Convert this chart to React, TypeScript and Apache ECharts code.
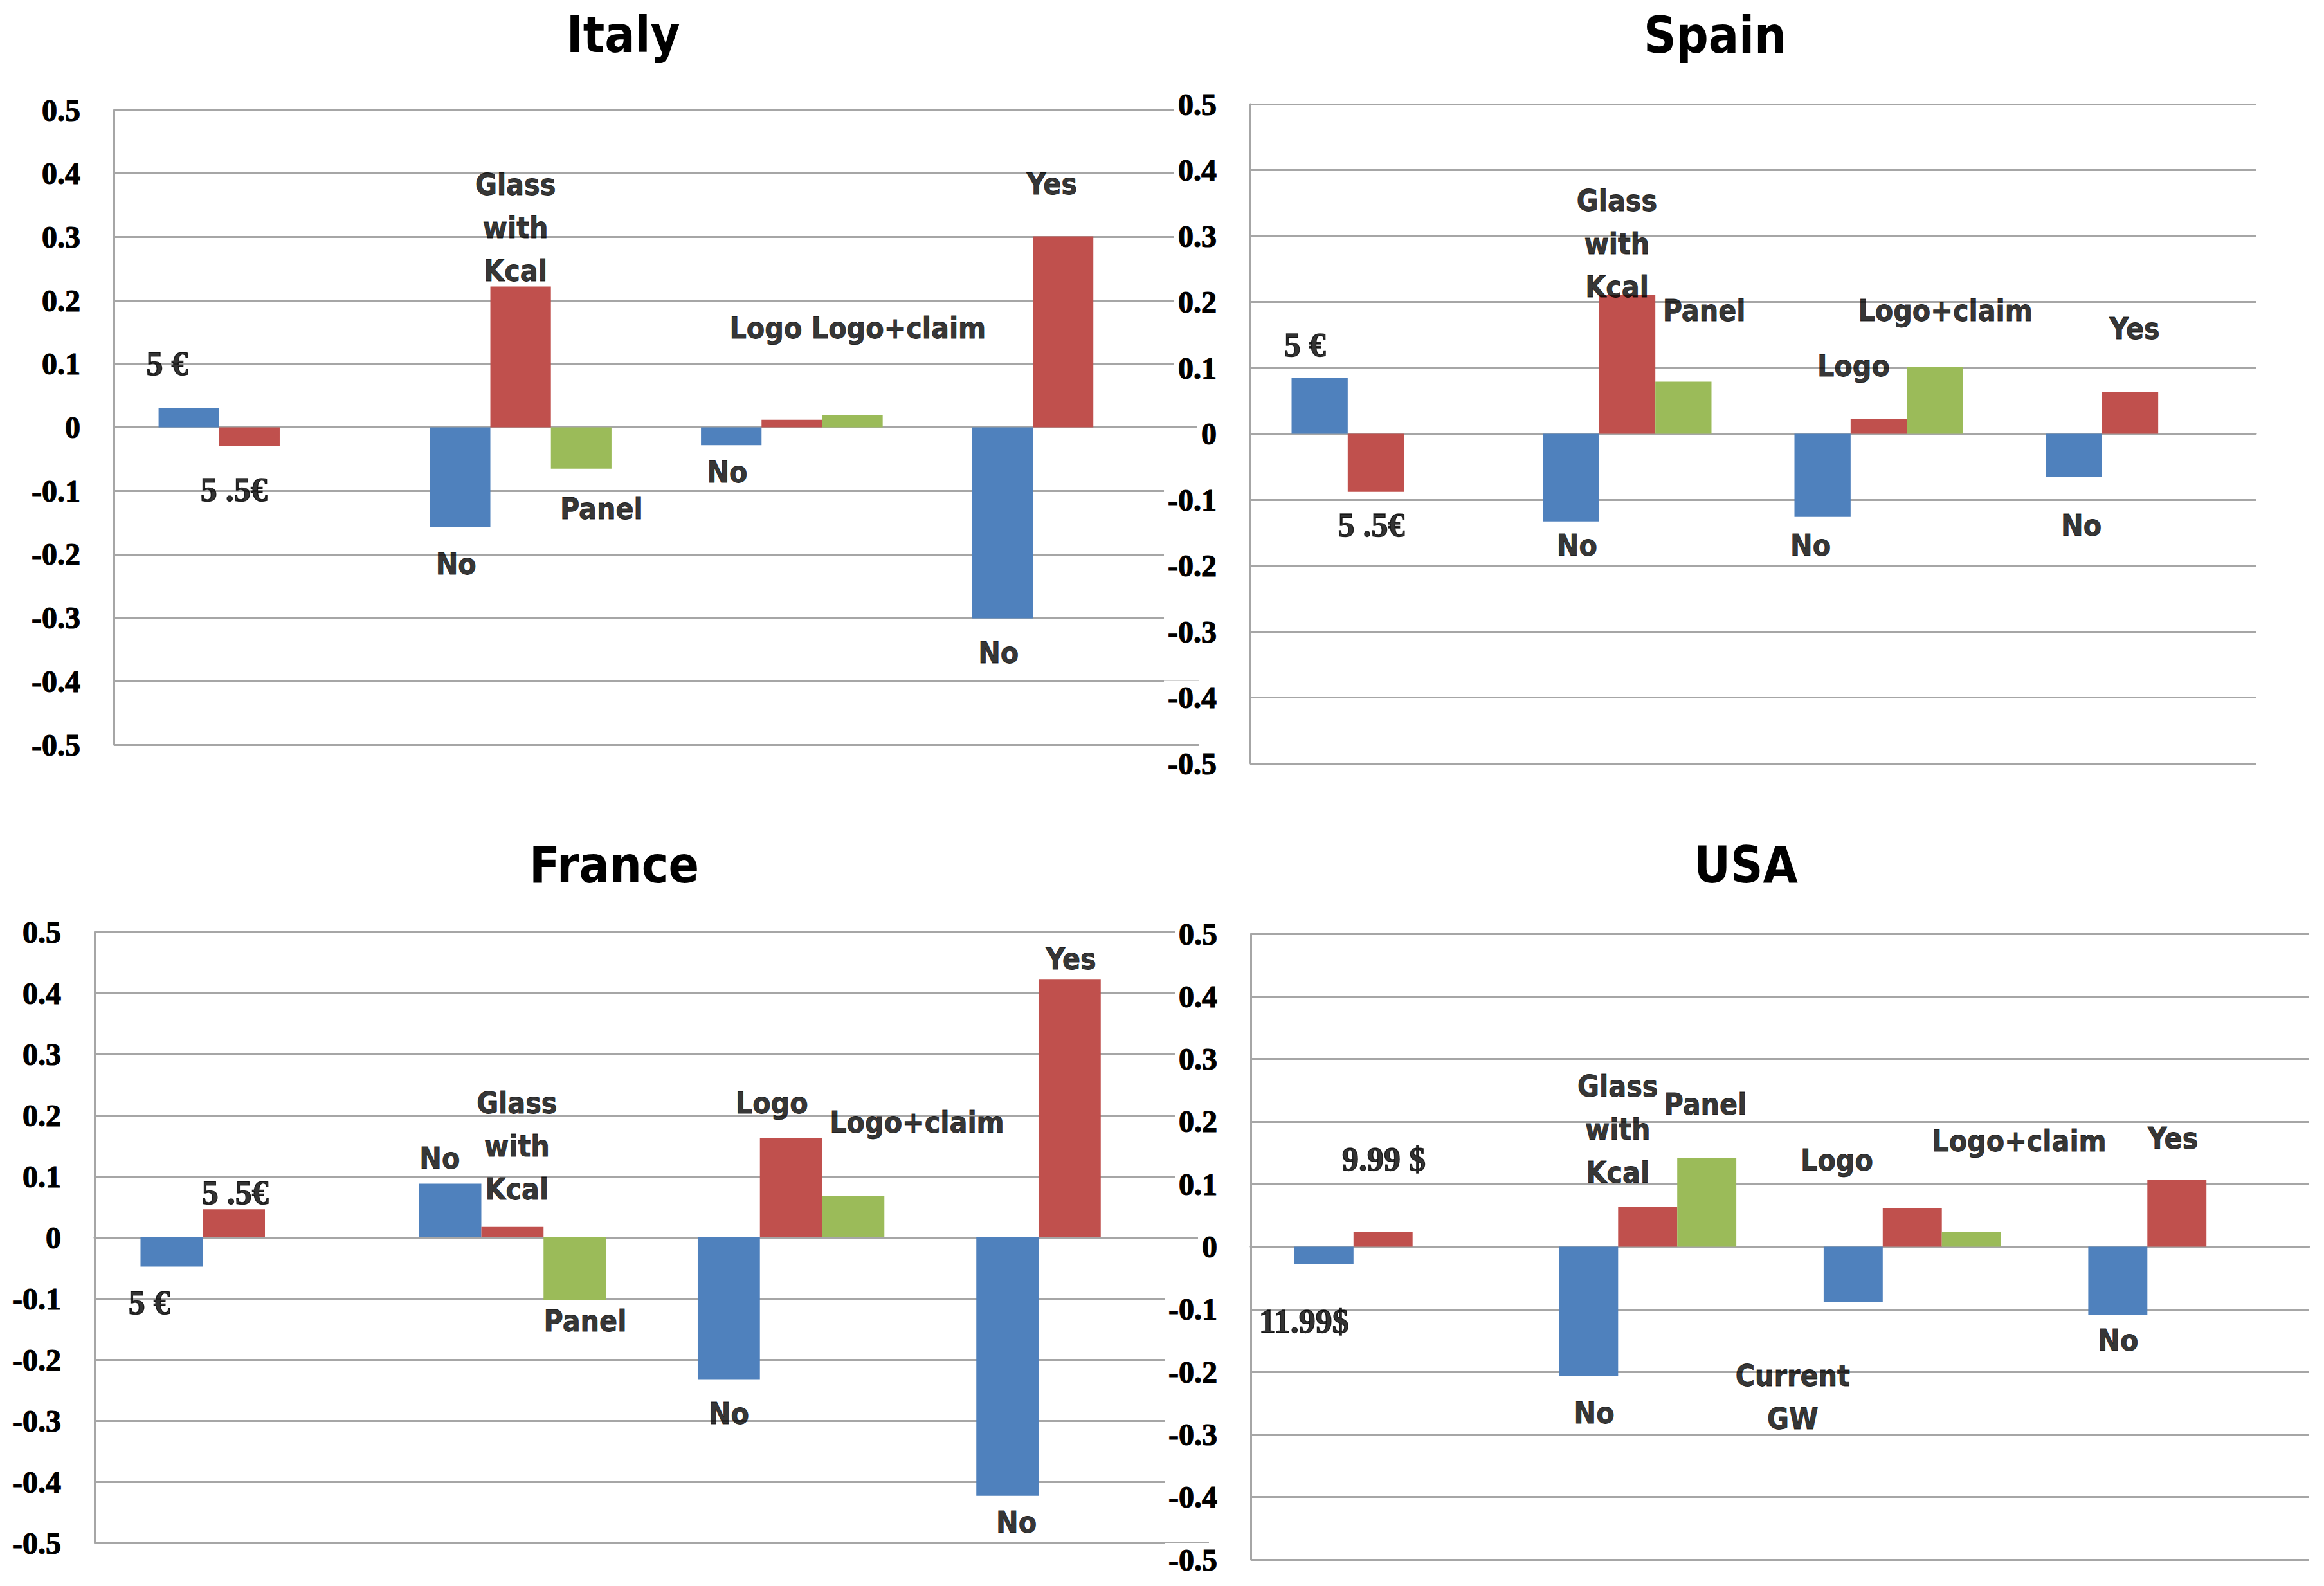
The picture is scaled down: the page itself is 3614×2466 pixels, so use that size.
import React, { useEffect, useRef } from "react";
import * as echarts from "echarts";

// ---------- data ----------
const CATEGORIES = ["Price", "Glass", "Logo", "GW"];
const COUNTRIES = ["Italy", "Spain", "France", "USA"];
const SERIES_NAMES = ["Level 1", "Level 2", "Level 3"];

const ITALY_BLUE = [0.03, -0.157, -0.028, -0.301];
const ITALY_RED = [-0.029, 0.222, 0.012, 0.301];
const ITALY_GREEN = [null, -0.065, 0.019, null];

const SPAIN_BLUE = [0.085, -0.133, -0.126, -0.065];
const SPAIN_RED = [-0.088, 0.211, 0.022, 0.063];
const SPAIN_GREEN = [null, 0.079, 0.101, null];

const FRANCE_BLUE = [-0.048, 0.088, -0.232, -0.423];
const FRANCE_RED = [0.046, 0.017, 0.163, 0.423];
const FRANCE_GREEN = [null, -0.102, 0.068, null];

const USA_BLUE = [-0.028, -0.207, -0.088, -0.109];
const USA_RED = [0.024, 0.064, 0.062, 0.107];
const USA_GREEN = [null, 0.142, 0.024, null];

// annotation texts: [text, position along categories (0..4), value]
const ITALY_LABELS: [string, number, number][] = [
  ["5 €", 0.197, 0.1],
  ["5 .5€", 0.443, -0.098],
  ["Glass\nwith\nKcal", 1.481, 0.315],
  ["No", 1.262, -0.215],
  ["Panel", 1.798, -0.128],
  ["Logo Logo+claim", 2.743, 0.157],
  ["No", 2.262, -0.07],
  ["Yes", 3.459, 0.383],
  ["No", 3.262, -0.355],
];
const SPAIN_LABELS: [string, number, number][] = [
  ["5 €", 0.218, 0.135],
  ["5 .5€", 0.482, -0.139],
  ["Glass\nwith\nKcal", 1.459, 0.288],
  ["Panel", 1.806, 0.187],
  ["No", 1.3, -0.169],
  ["Logo+claim", 2.765, 0.187],
  ["Logo", 2.4, 0.103],
  ["No", 2.229, -0.169],
  ["Yes", 3.518, 0.16],
  ["No", 3.306, -0.139],
];
const FRANCE_LABELS: [string, number, number][] = [
  ["5 €", 0.197, -0.107],
  ["5 .5€", 0.505, 0.073],
  ["No", 1.239, 0.129],
  ["Glass\nwith\nKcal", 1.516, 0.149],
  ["Panel", 1.761, -0.137],
  ["Logo", 2.431, 0.22],
  ["Logo+claim", 2.952, 0.188],
  ["No", 2.277, -0.288],
  ["Yes", 3.505, 0.456],
  ["No", 3.309, -0.466],
];
const USA_LABELS: [string, number, number][] = [
  ["9.99 $", 0.503, 0.14],
  ["11.99$", 0.201, -0.119],
  ["Glass\nwith\nKcal", 1.387, 0.188],
  ["Panel", 1.718, 0.228],
  ["No", 1.298, -0.266],
  ["Current\nGW", 2.048, -0.24],
  ["Logo", 2.215, 0.138],
  ["Logo+claim", 2.904, 0.169],
  ["Yes", 3.485, 0.173],
  ["No", 3.278, -0.15],
];

const Y_MIN = -0.5;
const Y_MAX = 0.5;
const Y_INTERVAL = 0.1;

// ---------- layout / style ----------
const PANEL_DATA = [
  { blue: ITALY_BLUE, red: ITALY_RED, green: ITALY_GREEN, labels: ITALY_LABELS },
  { blue: SPAIN_BLUE, red: SPAIN_RED, green: SPAIN_GREEN, labels: SPAIN_LABELS },
  { blue: FRANCE_BLUE, red: FRANCE_RED, green: FRANCE_GREEN, labels: FRANCE_LABELS },
  { blue: USA_BLUE, red: USA_RED, green: USA_GREEN, labels: USA_LABELS },
];

const GRIDS = [
  { left: 177, top: 171, width: 1687, height: 987 },
  { left: 1944, top: 162, width: 1564, height: 1025 },
  { left: 147, top: 1449, width: 1733, height: 950 },
  { left: 1945, top: 1452, width: 1646, height: 973 },
];
const TITLE_POS = [
  { x: 964, y: 10 },
  { x: 2662, y: 11 },
  { x: 950, y: 1301 },
  { x: 2710, y: 1301 },
];
const IS_RIGHT = [false, true, false, true];

const COLORS = ["#4F81BD", "#C0504D", "#9BBB59"];
const GRID_COLOR = "#A6A6A6";
const SANS = "'Liberation Sans Narrow', 'DejaVu Sans Condensed', 'Roboto', sans-serif";
const SERIF = "'Liberation Serif', 'DejaVu Serif', serif";

function buildOption() {
  const grid = GRIDS.map((g) => ({ ...g, containLabel: false }));
  const title = COUNTRIES.map((c, i) => ({
    text: c,
    left: TITLE_POS[i].x,
    top: TITLE_POS[i].y,
    textAlign: "center",
    textStyle: { fontFamily: SANS, fontWeight: "bold", fontSize: 78, color: "#000" },
  }));

  const xAxis: any[] = [];
  const yAxis: any[] = [];
  const series: any[] = [];

  COUNTRIES.forEach((c, i) => {
    xAxis.push({
      type: "category",
      gridIndex: i,
      data: CATEGORIES,
      axisLine: { show: true, onZero: true, lineStyle: { color: GRID_COLOR, width: 3 } },
      axisTick: { show: false },
      axisLabel: { show: false },
      splitLine: { show: false },
      z: IS_RIGHT[i] ? 1 : 0,
    });
    yAxis.push({
      type: "value",
      gridIndex: i,
      min: Y_MIN,
      max: Y_MAX,
      interval: Y_INTERVAL,
      axisLine: { show: true, lineStyle: { color: GRID_COLOR, width: 3 } },
      axisTick: { show: false },
      splitLine: { show: true, lineStyle: { color: GRID_COLOR, width: 3 } },
      axisLabel: {
        show: true,
        margin: 48,
        fontFamily: SERIF,
        fontWeight: "bold",
        fontSize: 48,
        color: "#000",
        textBorderColor: "#000",
        textBorderWidth: 1.2,
        backgroundColor: IS_RIGHT[i] ? "#fff" : "transparent",
        padding: [2, 4, 2, 6],
        formatter: (v: number) => (Math.abs(v) < 1e-9 ? "0" : v.toFixed(1)),
      },
      z: IS_RIGHT[i] ? 1 : 0,
    });
  });
  // hidden value x-axes for annotation placement
  COUNTRIES.forEach((c, i) => {
    xAxis.push({
      type: "value",
      gridIndex: i,
      min: 0,
      max: CATEGORIES.length,
      show: false,
    });
  });

  PANEL_DATA.forEach((p, i) => {
    [p.blue, p.red, p.green].forEach((vals, s) => {
      series.push({
        type: "bar",
        name: `${COUNTRIES[i]} ${SERIES_NAMES[s]}`,
        xAxisIndex: i,
        yAxisIndex: i,
        data: vals.map((v) => (v === null ? "-" : v)),
        barGap: "0%",
        barCategoryGap: "33%",
        itemStyle: { color: COLORS[s] },
        z: 2,
        silent: true,
      });
    });
    series.push({
      type: "scatter",
      name: `${COUNTRIES[i]} labels`,
      xAxisIndex: 4 + i,
      yAxisIndex: i,
      symbolSize: 1,
      itemStyle: { color: "rgba(0,0,0,0)" },
      silent: true,
      z: 5,
      data: p.labels.map(([t, x, y]) => {
        const numeric = /\d/.test(t);
        return {
          name: t,
          value: [x, y],
          label: {
            show: true,
            position: "inside",
            formatter: "{b}",
            fontFamily: numeric ? SERIF : SANS,
            fontWeight: "bold",
            fontSize: numeric ? 52 : 46,
            lineHeight: 67,
            color: "#000",
            textBorderColor: "#000",
            textBorderWidth: numeric ? 1.4 : 0.8,
            align: "center",
            verticalAlign: "middle",
          },
        };
      }),
    });
  });

  return {
    animation: false,
    backgroundColor: "#fff",
    title,
    grid,
    xAxis,
    yAxis,
    series,
  };
}

export default function App() {
  const ref = useRef<HTMLDivElement>(null);
  useEffect(() => {
    document.body.style.margin = "0";
    if (!ref.current) return;
    const chart = echarts.init(ref.current, undefined, { renderer: "svg" });
    chart.setOption(buildOption() as any);
    return () => chart.dispose();
  }, []);
  return (
    <div
      ref={ref}
      style={{ position: "absolute", left: 0, top: 0, width: "3614px", height: "2466px", background: "#fff" }}
    />
  );
}
